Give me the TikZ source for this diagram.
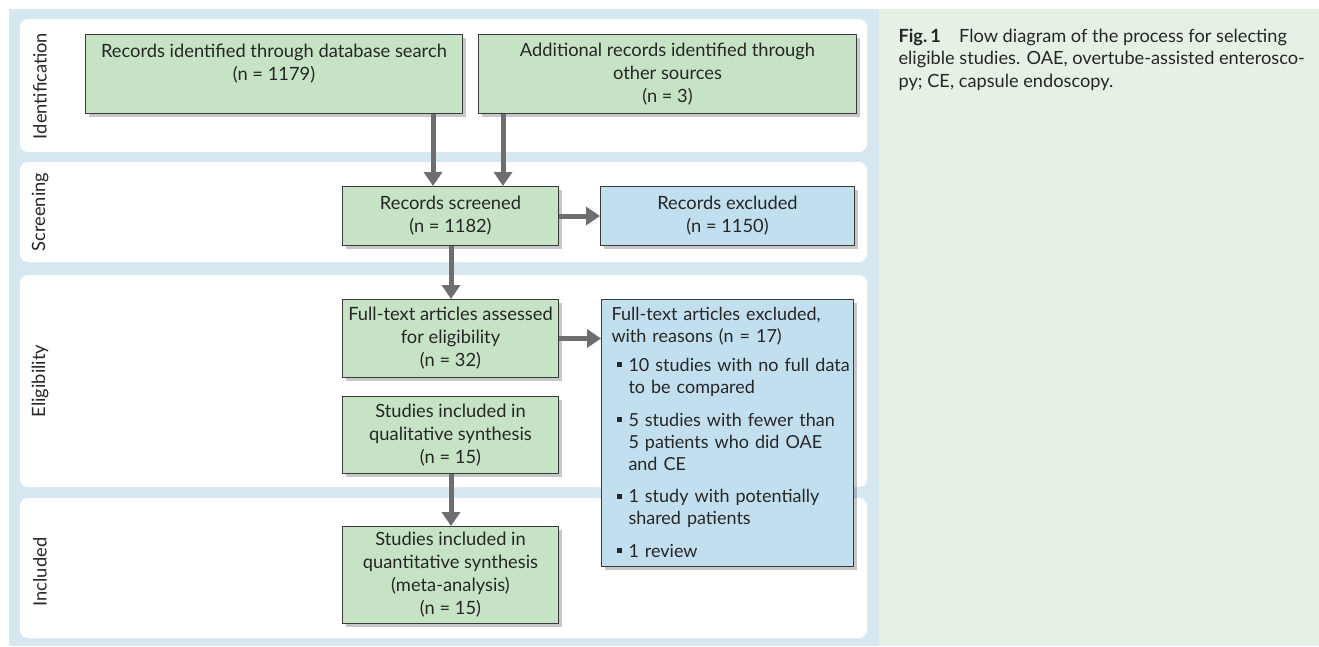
\documentclass[tikz,border=0pt]{standalone}
\usepackage{fontspec}
\setmainfont{Lato}
\usetikzlibrary{arrows.meta,shadows}

\definecolor{panelblue}{HTML}{D7E7F0}
\definecolor{boxgreen}{HTML}{C6E3C6}
\definecolor{boxblue}{HTML}{C2DFEF}
\definecolor{capgreen}{HTML}{E6F1E5}
\definecolor{arrowgray}{HTML}{6D6E70}
\definecolor{edgegray}{HTML}{3A3A3A}

% one reason in the exclusion box
\newcommand{\reason}[1]{\par\prevdepth=5pt\vspace{9pt}\noindent\hspace*{5pt}\makebox[12pt][l]{\rule[0.22em]{5pt}{5pt}}\begin{tabular}[t]{@{}l@{}}#1\end{tabular}}

\begin{document}
\begin{tikzpicture}[x=1pt, y=-1pt,
  every node/.style = {font=\fontsize{18.3}{23}\selectfont, text=black!85},
  lane/.style = {fill=white, rounded corners=8pt},
  stage/.style = {rotate=90, anchor=center},
  box/.style = {draw=edgegray, line width=1pt, anchor=north west,
    inner sep=0pt, align=center,
    drop shadow={shadow xshift=3pt, shadow yshift=-3pt, fill=black, opacity=0.22}},
  greenbox/.style = {box, fill=boxgreen},
  bluebox/.style = {box, fill=boxblue},
  flow/.style = {draw=arrowgray, line width=5pt,
    -{Triangle[width=18pt, length=14pt]}}]

  % panels
  \useasboundingbox (0,0) rectangle (1319,646);
  \fill[panelblue] (9,9) rectangle (879,646);
  \fill[capgreen] (879,9) rectangle (1319,646);
  \fill[lane] (20,19) rectangle (867,152);
  \fill[lane] (20,162) rectangle (867,262);
  \fill[lane] (20,275) rectangle (867,487);
  \fill[lane] (20,498) rectangle (867,638);

  % stages
  \node[stage] (ident) at (40,86) {Identification};
  \node[stage] (screen) at (40,212) {Screening};
  \node[stage] (elig) at (40,381) {Eligibility};
  \node[stage] (incl) at (40,572) {Included};

  % boxes
  \node[greenbox, minimum width=377pt, minimum height=79pt] (database) at (85,34)
    {Records identified through database search\\(n = 1179)\\\mbox{}};
  \node[greenbox, minimum width=378pt, minimum height=79pt] (other) at (478,34)
    {Additional records identified through\\other sources\\(n = 3)};
  \node[greenbox, minimum width=216pt, minimum height=59pt] (screened) at (342,186)
    {Records screened\\(n = 1182)};
  \node[bluebox, minimum width=254pt, minimum height=59pt] (excluded) at (600,186)
    {Records excluded\\(n = 1150)};
  \node[greenbox, minimum width=216pt, minimum height=78pt] (fulltext) at (342,299)
    {Full-text articles assessed\\for eligibility\\(n = 32)};
  \node[bluebox, inner xsep=3pt, inner ysep=8pt, text width=246pt,
    align=left, font=\fontsize{18}{22}\selectfont] (reasons) at (601,299)
    {\leftskip=7pt Full-text articles excluded,\\with reasons (n = 17)
     \reason{10 studies with no full data\\to be compared}
     \reason{5 studies with fewer than\\5 patients who did OAE\\and CE}
     \reason{1 study with potentially\\shared patients}
     \reason{1 review}\par\vspace{-5pt}};
  \node[greenbox, minimum width=216pt, minimum height=77pt] (qualitative) at (342,396)
    {Studies included in\\qualitative synthesis\\(n = 15)};
  \node[greenbox, minimum width=216pt, minimum height=97pt] (quantitative) at (342,526)
    {Studies included in\\quantitative synthesis\\(meta-analysis)\\(n = 15)};

  % caption
  \node[anchor=north west, align=left, font=\fontsize{18.2}{22.5}\selectfont] (caption) at (895,25)
    {\textbf{Fig.\,1}\quad Flow diagram of the process for selecting\\
     eligible studies. OAE, overtube-assisted enterosco-\\
     py; CE, capsule endoscopy.};

  % arrows
  \draw[flow] (database.south -| 433,0) -- (screened.north -| 433,0);
  \draw[flow] (other.south -| 503,0) -- (screened.north -| 503,0);
  \draw[flow] (screened) -- (excluded);
  \draw[flow] (screened.south -| 451,0) -- (fulltext.north -| 451,0);
  \draw[flow] (fulltext.east) -- (fulltext.east -| reasons.west);
  \draw[flow] (qualitative.south -| 451,0) -- (quantitative.north -| 451,0);
\end{tikzpicture}
\end{document}
